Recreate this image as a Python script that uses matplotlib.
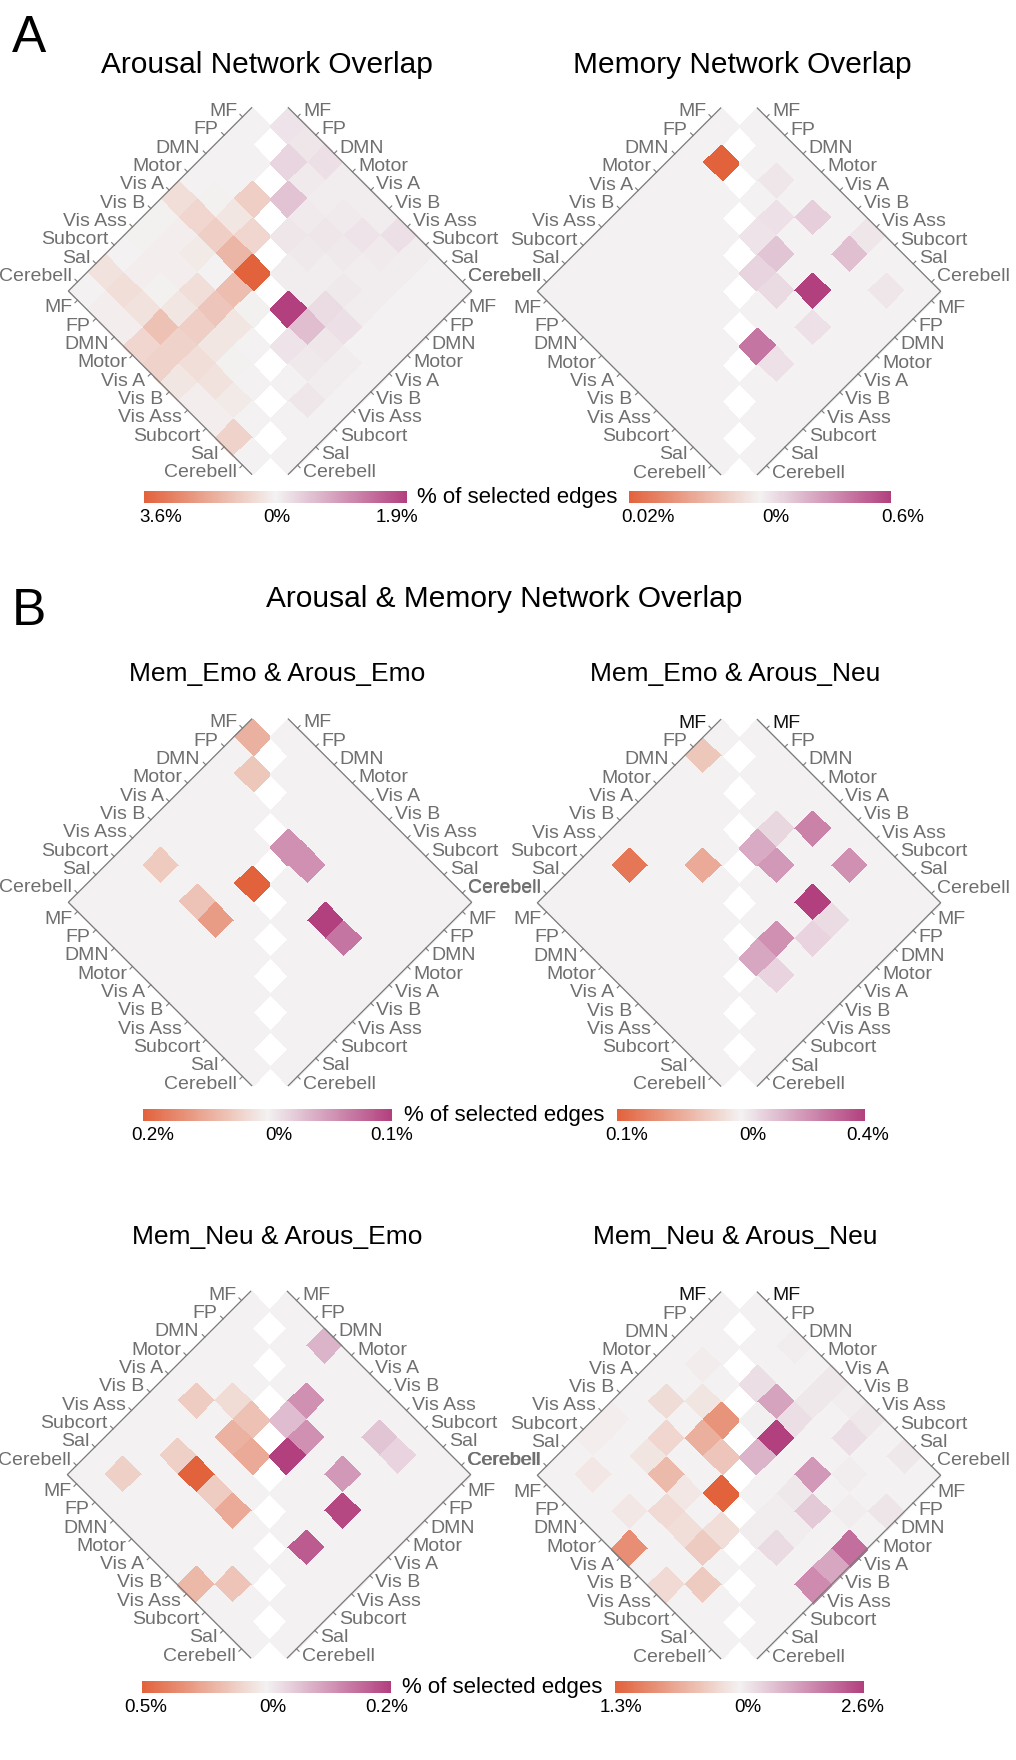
import numpy as np
import matplotlib
matplotlib.use("Agg")
import matplotlib.pyplot as plt
import matplotlib.cm as cm
from matplotlib.colors import LinearSegmentedColormap, TwoSlopeNorm
from matplotlib.transforms import Affine2D

plt.rcParams['font.family'] = ['Liberation Sans', 'DejaVu Sans']

# === data: lower-triangle rows (row i holds columns 0..i), values in % ===
networks = ["MF", "FP", "DMN", "Motor", "Vis A", "Vis B", "Vis Ass", "Subcort", "Sal", "Cerebell"]

# Arousal network overlap
arousal_neg = [[0],
               [0, 0],
               [0, 0, 0.9],
               [0, 0.05, 0.3, 0.7],
               [0.5, 0.7, 0.9, 1.5, 3.6],
               [0.05, 0.1, 0.2, 0, 1.3, 0.05],
               [0.05, 0.1, 0.1, 0.5, 1.1, 0.3, 0],
               [0, 0.1, 0.05, 0.3, 0.9, 0.3, 0.05, 0],
               [0.4, 0.5, 0.4, 1.2, 0.8, 0.5, 0.4, 0.2, 0],
               [0, 0.1, 0.1, 0.7, 0.8, 0.3, 0.1, 0.1, 0.8, 0]]
arousal_pos = [[0.15],
               [0.12, 0.3],
               [0.2, 0.08, 0.5],
               [0.05, 0.05, 0.08, 0.12],
               [0.05, 0.08, 0.12, 0.1, 0.05],
               [0.05, 0.15, 0.1, 0.05, 0.05, 1.9],
               [0.2, 0.08, 0.05, 0.1, 0.25, 0.55, 0.15],
               [0.05, 0.05, 0.05, 0.05, 0.2, 0.12, 0.1, 0],
               [0, 0, 0, 0, 0, 0.05, 0.05, 0.12, 0],
               [0, 0, 0, 0, 0, 0, 0, 0, 0, 0]]

# Memory network overlap
memory_neg = [[0],
              [0, 0.02],
              [0, 0, 0],
              [0, 0, 0, 0],
              [0, 0, 0, 0, 0],
              [0, 0, 0, 0, 0, 0],
              [0, 0, 0, 0, 0, 0, 0],
              [0, 0, 0, 0, 0, 0, 0, 0],
              [0, 0, 0, 0, 0, 0, 0, 0, 0],
              [0, 0, 0, 0, 0, 0, 0, 0, 0, 0]]
memory_pos = [[0],
              [0, 0],
              [0, 0.04, 0],
              [0, 0, 0.06, 0.05],
              [0, 0.12, 0, 0.15, 0.1],
              [0, 0, 0, 0, 0.08, 0],
              [0.04, 0.17, 0, 0.6, 0, 0, 0.42],
              [0, 0, 0, 0, 0.06, 0, 0.06, 0],
              [0, 0.04, 0, 0, 0, 0, 0, 0, 0],
              [0, 0, 0, 0, 0, 0, 0, 0, 0, 0]]

# Mem_Emo & Arous_Emo
emoemo_neg = [[0.09],
              [0, 0.06],
              [0, 0, 0],
              [0, 0, 0, 0],
              [0, 0, 0, 0, 0.2],
              [0, 0, 0, 0, 0, 0],
              [0, 0.055, 0, 0.065, 0.12, 0, 0],
              [0, 0, 0, 0, 0, 0, 0, 0],
              [0, 0, 0, 0, 0, 0, 0, 0, 0],
              [0, 0, 0, 0, 0, 0, 0, 0, 0, 0]]
emoemo_pos = [[0],
              [0, 0],
              [0, 0, 0],
              [0, 0, 0, 0.055],
              [0, 0, 0, 0.055, 0],
              [0, 0, 0, 0, 0, 0],
              [0, 0, 0, 0, 0.1, 0, 0],
              [0, 0, 0, 0, 0.07, 0, 0, 0],
              [0, 0, 0, 0, 0, 0, 0, 0, 0],
              [0, 0, 0, 0, 0, 0, 0, 0, 0, 0]]

# Mem_Emo & Arous_Neu
emoneu_neg = [[0],
              [0.03, 0],
              [0, 0, 0],
              [0, 0, 0, 0],
              [0, 0, 0, 0.05, 0],
              [0, 0, 0, 0, 0, 0],
              [0, 0.085, 0, 0, 0, 0, 0],
              [0, 0, 0, 0, 0, 0, 0, 0],
              [0, 0, 0, 0, 0, 0, 0, 0, 0],
              [0, 0, 0, 0, 0, 0, 0, 0, 0, 0]]
emoneu_pos = [[0],
              [0, 0],
              [0, 0, 0],
              [0, 0, 0.06, 0.16],
              [0, 0.25, 0, 0.2, 0],
              [0, 0, 0, 0, 0, 0],
              [0, 0.22, 0, 0.4, 0, 0.22, 0.17],
              [0, 0, 0, 0.05, 0.07, 0, 0.07, 0],
              [0, 0, 0, 0, 0, 0, 0, 0, 0],
              [0, 0, 0, 0, 0, 0, 0, 0, 0, 0]]

# Mem_Neu & Arous_Emo
neuemo_neg = [[0],
              [0, 0],
              [0, 0, 0],
              [0, 0, 0.08, 0.17],
              [0, 0.13, 0, 0.22, 0.25],
              [0, 0, 0, 0, 0, 0],
              [0, 0, 0.12, 0.5, 0.13, 0.25, 0],
              [0, 0, 0, 0, 0, 0, 0, 0],
              [0, 0.12, 0, 0, 0, 0, 0, 0.16, 0],
              [0, 0, 0, 0, 0, 0, 0.2, 0, 0, 0]]
neuemo_pos = [[0],
              [0, 0],
              [0.07, 0, 0],
              [0, 0, 0.11, 0.06],
              [0, 0, 0, 0.11, 0.2],
              [0, 0, 0, 0, 0, 0],
              [0, 0.05, 0, 0.1, 0, 0, 0],
              [0, 0.035, 0, 0, 0.19, 0, 0.17, 0],
              [0, 0, 0, 0, 0, 0, 0, 0, 0],
              [0, 0, 0, 0, 0, 0, 0, 0, 0, 0]]

# Mem_Neu & Arous_Neu
neuneu_neg = [[0],
              [0, 0],
              [0, 0.05, 0],
              [0, 0, 0.12, 0.85],
              [0, 0.2, 0, 0.6, 0.4],
              [0, 0, 0.25, 0, 0, 1.3],
              [0.04, 0, 0.12, 0.5, 0.1, 0, 0.18],
              [0.04, 0, 0, 0, 0.22, 0.18, 0.35, 0],
              [0, 0.1, 0, 0.1, 0, 0, 0, 0.35, 0],
              [0, 0, 0, 0, 0.9, 0, 0.22, 0, 0, 0]]
neuneu_pos = [[0],
              [0, 0],
              [0.1, 0, 0.3],
              [0, 0, 1.15, 0.05],
              [0.15, 0.15, 0.3, 2.6, 0.9],
              [0.1, 0, 0, 0, 0, 0],
              [0.15, 0.3, 0, 1.3, 0.15, 0.08, 0.08],
              [0, 0, 0.1, 0, 0.6, 0.1, 0.35, 0],
              [0.15, 0, 0, 0.07, 0, 0, 0, 0, 0],
              [0, 0, 0.2, 0, 1.9, 1.1, 1.5, 0, 0, 0]]

# colour scale limits (orange side, pink side) and colorbar labels
limits = {"arousal": (3.6, 1.9), "memory": (0.02, 0.6),
          "emoemo": (0.2, 0.1), "emoneu": (0.1, 0.4),
          "neuemo": (0.5, 0.2), "neuneu": (1.3, 2.6)}
cbar_labels = {"arousal": ["3.6%", "0%", "1.9%"], "memory": ["0.02%", "0%", "0.6%"],
               "emoemo": ["0.2%", "0%", "0.1%"], "emoneu": ["0.1%", "0%", "0.4%"],
               "neuemo": ["0.5%", "0%", "0.2%"], "neuneu": ["1.3%", "0%", "2.6%"]}

# === layout (pixels) ===
W, H = 1016, 1760
U = 18.33  # half diagonal of one cell
GREY = '#6f6f6f'
cmap = LinearSegmentedColormap.from_list('overlap', ['#e2623c', '#f3f2f2', '#b2407e'])

fig = plt.figure(figsize=(W / 100, H / 100), dpi=100)


def fx(x):
    return x / W


def fy(y):
    return 1 - y / H


def tri(rows):
    m = np.full((10, 10), np.nan)
    for i, r in enumerate(rows):
        m[i, :len(r)] = r
    return np.ma.masked_invalid(m)


def draw_panel(cx, top, neg, pos, key, dark_mf=False):
    vneg, vpos = limits[key]
    ax = fig.add_axes([fx(cx - 11 * U), fy(top + 20 * U), 22 * U / W, 20 * U / H])
    ax.set_xlim(-11, 11)
    ax.set_ylim(20, 0)
    ax.axis('off')
    norm = TwoSlopeNorm(vmin=-vneg, vcenter=0, vmax=vpos)
    # matrix cell (row, col) -> rotated diamond, left half and right half
    t_left = Affine2D(np.array([[1., -1., -1.], [1., 1., 0.], [0., 0., 1.]])) + ax.transData
    t_right = Affine2D(np.array([[-1., 1., 1.], [1., 1., 0.], [0., 0., 1.]])) + ax.transData
    ax.pcolormesh(-tri(neg), cmap=cmap, norm=norm, transform=t_left,
                  edgecolors='face', linewidth=0.4)
    ax.pcolormesh(tri(pos), cmap=cmap, norm=norm, transform=t_right,
                  edgecolors='face', linewidth=0.4)

    # outer edges
    ax.plot([-1, -11, -1], [0, 10, 20], color='#7a7a7a', lw=0.9, clip_on=False)
    ax.plot([1, 11, 1], [0, 10, 20], color='#7a7a7a', lw=0.9, clip_on=False)

    t = 0.2
    for k, name in enumerate(networks):
        col = '#111111' if (dark_mf and k == 0) else GREY
        # upper left
        mx, my = -k - 1.5, k + 0.5
        ax.plot([mx, mx - t * 0.7], [my, my - t * 0.7], color='#7a7a7a', lw=0.8, clip_on=False)
        ax.text(mx - 0.3, my - 0.05, name, ha='right', va='baseline', fontsize=14,
                color=col, clip_on=False)
        # upper right
        mx, my = k + 1.5, k + 0.5
        ax.plot([mx, mx + t * 0.7], [my, my - t * 0.7], color='#7a7a7a', lw=0.8, clip_on=False)
        ax.text(mx + 0.3, my - 0.05, name, ha='left', va='baseline', fontsize=14,
                color=col, clip_on=False)
        # lower left
        mx, my = k - 10.5, k + 10.5
        ax.plot([mx, mx - t * 0.7], [my, my + t * 0.7], color='#7a7a7a', lw=0.8, clip_on=False)
        ax.text(mx - 0.3, my - 0.05, name, ha='right', va='top', fontsize=14,
                color=GREY, clip_on=False)
        # lower right
        mx, my = 10.5 - k, 10.5 + k
        ax.plot([mx, mx + t * 0.7], [my, my + t * 0.7], color='#7a7a7a', lw=0.8, clip_on=False)
        ax.text(mx + 0.3, my - 0.05, name, ha='left', va='top', fontsize=14,
                color=GREY, clip_on=False)


def draw_cbar(x0, x1, y0, y1, key, fracs, label_y, edge_label_x=None):
    vneg, vpos = limits[key]
    cax = fig.add_axes([fx(x0), fy(y1), (x1 - x0) / W, (y1 - y0) / H])
    norm = TwoSlopeNorm(vmin=-vneg, vcenter=0, vmax=vpos)
    cb = fig.colorbar(cm.ScalarMappable(norm=norm, cmap=cmap), cax=cax, orientation='horizontal')
    cb.outline.set_visible(False)
    cax.set_xticks([])
    for lab, f in zip(cbar_labels[key], fracs):
        fig.text(fx(x0 + f * (x1 - x0)), fy(label_y), lab, ha='center', va='center', fontsize=13.5)
    if edge_label_x is not None:
        fig.text(fx(edge_label_x), fy((y0 + y1) / 2), "% of selected edges",
                 ha='left', va='center', fontsize=16)


# === panels ===
CL, CR = 270, 739
draw_panel(CL, 107.7, arousal_neg, arousal_pos, "arousal")
draw_panel(CR, 108.0, memory_neg, memory_pos, "memory")
draw_panel(CL, 719.0, emoemo_neg, emoemo_pos, "emoemo")
draw_panel(CR, 719.5, emoneu_neg, emoneu_pos, "emoneu", dark_mf=True)
draw_panel(269, 1291.3, neuemo_neg, neuemo_pos, "neuemo")
draw_panel(CR, 1292.0, neuneu_neg, neuneu_pos, "neuneu", dark_mf=True)

# === colorbars ===
draw_cbar(144, 407, 491, 503, "arousal", [0.065, 0.506, 0.962], 518, edge_label_x=417)
draw_cbar(629, 891, 491, 503, "memory", [0.073, 0.561, 1.046], 518)
draw_cbar(143, 392, 1109, 1121, "emoemo", [0.04, 0.544, 1.0], 1135, edge_label_x=404)
draw_cbar(617, 865, 1109, 1121, "emoneu", [0.04, 0.548, 1.012], 1135)
draw_cbar(142, 391, 1681, 1693, "neuemo", [0.016, 0.526, 0.984], 1707, edge_label_x=402)
draw_cbar(615, 864, 1681, 1693, "neuneu", [0.024, 0.534, 0.992], 1707)

# === titles ===
fig.text(fx(12), fy(52), "A", ha='left', va='baseline', fontsize=37)
fig.text(fx(12), fy(625), "B", ha='left', va='baseline', fontsize=37)
fig.text(fx(267), fy(73), "Arousal Network Overlap", ha='center', va='baseline', fontsize=21.5)
fig.text(fx(742), fy(73), "Memory Network Overlap", ha='center', va='baseline', fontsize=21.5)
fig.text(fx(504), fy(607), "Arousal & Memory Network Overlap", ha='center', va='baseline', fontsize=21.5)
fig.text(fx(277), fy(681), "Mem_Emo & Arous_Emo", ha='center', va='baseline', fontsize=19)
fig.text(fx(735), fy(681), "Mem_Emo & Arous_Neu", ha='center', va='baseline', fontsize=19)
fig.text(fx(277), fy(1244), "Mem_Neu & Arous_Emo", ha='center', va='baseline', fontsize=19)
fig.text(fx(735), fy(1244), "Mem_Neu & Arous_Neu", ha='center', va='baseline', fontsize=19)

fig.savefig("out.png", dpi=100)
